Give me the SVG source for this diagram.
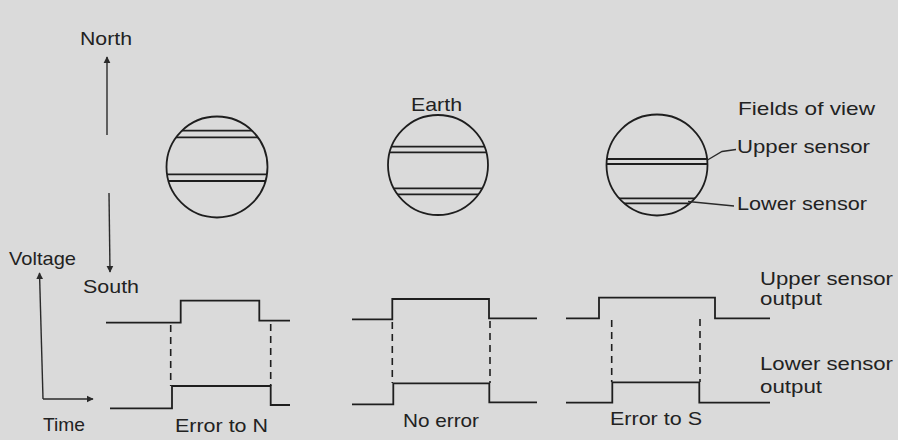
<svg xmlns="http://www.w3.org/2000/svg" width="898" height="440" viewBox="0 0 898 440">
<defs>
<style>
.t{font-family:"Liberation Sans",Arial,sans-serif;font-size:19px;fill:#222}
.ln{stroke:#1e1e1e;stroke-width:1.8;fill:none}
.thin{stroke:#2a2a2a;stroke-width:1.4;fill:none}
.dash{stroke:#1e1e1e;stroke-width:1.6;fill:none;stroke-dasharray:7,5}
</style>
<marker id="ah" viewBox="0 0 10 10" refX="9" refY="5" markerWidth="7" markerHeight="9" markerUnits="userSpaceOnUse" orient="auto">
<path d="M0,0 L10,5 L0,10 z" fill="#2a2a2a"/>
</marker>
<clipPath id="c1"><circle cx="217" cy="167" r="50.5"/></clipPath>
<clipPath id="c2"><circle cx="438" cy="165" r="50"/></clipPath>
<clipPath id="c3"><circle cx="657" cy="165" r="50.5"/></clipPath>
</defs>
<rect width="898" height="440" fill="#dadada"/>

<g id="labels">
<text class="t" x="80" y="45" textLength="52" lengthAdjust="spacingAndGlyphs">North</text>
<text class="t" x="83" y="293" textLength="56" lengthAdjust="spacingAndGlyphs">South</text>
<text class="t" x="9" y="265" textLength="67" lengthAdjust="spacingAndGlyphs">Voltage</text>
<text class="t" x="43" y="431" textLength="42" lengthAdjust="spacingAndGlyphs">Time</text>
<text class="t" x="738" y="115" textLength="137" lengthAdjust="spacingAndGlyphs">Fields of view</text>
<text class="t" x="737" y="153" textLength="133" lengthAdjust="spacingAndGlyphs">Upper sensor</text>
<text class="t" x="737" y="210" textLength="130" lengthAdjust="spacingAndGlyphs">Lower sensor</text>
<text class="t" x="760" y="285" textLength="133" lengthAdjust="spacingAndGlyphs">Upper sensor</text>
<text class="t" x="760" y="305" textLength="62" lengthAdjust="spacingAndGlyphs">output</text>
<text class="t" x="760" y="370" textLength="133" lengthAdjust="spacingAndGlyphs">Lower sensor</text>
<text class="t" x="760" y="393" textLength="62" lengthAdjust="spacingAndGlyphs">output</text>
</g>

<g id="view-north">
<circle class="ln" cx="217" cy="167" r="50.5"/>
<g clip-path="url(#c1)">
<path class="ln" d="M160,130.7H275M160,137.3H275M160,174.3H275M160,181H275"/>
</g>
</g>

<g id="view-earth">
<text class="t" x="411" y="111" textLength="51" lengthAdjust="spacingAndGlyphs">Earth</text>
<circle class="ln" cx="438" cy="165" r="50"/>
<g clip-path="url(#c2)">
<path class="ln" d="M380,146.7H495M380,152.3H495M380,188.3H495M380,194.3H495"/>
</g>
</g>

<g id="view-south">
<circle class="ln" cx="657" cy="165" r="50.5"/>
<g clip-path="url(#c3)">
<path class="ln" d="M600,159H715M600,164H715M600,198.3H715M600,203.3H715"/>
</g>
</g>

<g id="wave-error-n">
<path class="ln" d="M106,322.7H180.7V300.7H259.3V320.7H290"/>
<path class="ln" d="M110,408.3H172V386H270.7V405H290"/>
<path class="dash" d="M170.7,325V386M270.7,324V386"/>
<text class="t" x="175" y="432" textLength="93" lengthAdjust="spacingAndGlyphs">Error to N</text>
</g>

<g id="wave-no-error">
<path class="ln" d="M352,319.3H392.3V299H489V318.3H537"/>
<path class="ln" d="M352,404.3H393.3V383.3H489.3V402.3H537"/>
<path class="dash" d="M392.3,322V383M490,321V383"/>
<text class="t" x="403" y="427" textLength="76" lengthAdjust="spacingAndGlyphs">No error</text>
</g>

<g id="wave-error-s">
<path class="ln" d="M566,318.3H599V297.7H715V318.3H770"/>
<path class="ln" d="M566,402.7H612.3V382.3H699.3V402.7H770"/>
<path class="dash" d="M611.7,320V382M700,319V382"/>
<text class="t" x="610" y="425" textLength="92" lengthAdjust="spacingAndGlyphs">Error to S</text>
</g>

<g id="connectors">
<line class="thin" x1="107" y1="135" x2="107" y2="57" marker-end="url(#ah)"/>
<line class="thin" x1="109" y1="193" x2="110" y2="272" marker-end="url(#ah)"/>
<path class="thin" d="M43,399H93" marker-end="url(#ah)"/>
<line class="thin" x1="43" y1="399" x2="39.5" y2="273" marker-end="url(#ah)"/>
<path class="thin" d="M707.5,160L722,151.5L736,149.5"/>
<path class="thin" d="M688,201.5L734,206"/>
</g>
</svg>
